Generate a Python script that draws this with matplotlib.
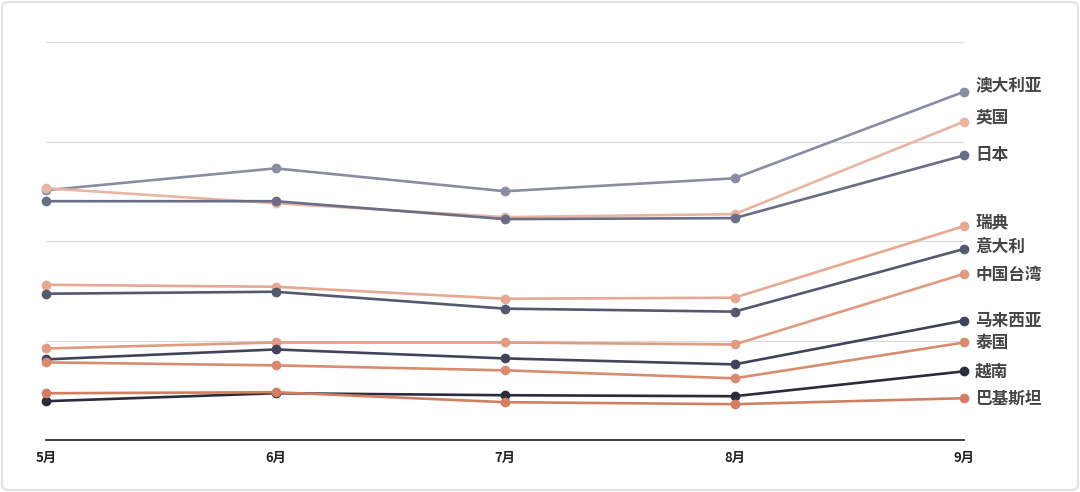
import matplotlib.pyplot as plt
from matplotlib.patches import FancyBboxPatch

plt.rcParams['font.family'] = ['Noto Sans CJK SC', 'DejaVu Sans']

# Months on the x axis
months = ['5月', '6月', '7月', '8月', '9月']

# Series values (relative index, axis 0..400)
australia = [251, 273, 250, 263, 350]
uk = [253, 238, 224, 227, 320]
japan = [240, 240, 222, 223, 286]
sweden = [156, 154, 142, 143, 215]
italy = [147, 149, 132, 129, 192]
taiwan = [92, 98, 98, 96, 167]
malaysia = [81, 91, 82, 76, 120]
thailand = [78, 75, 70, 62, 98]
vietnam = [39, 47, 45, 44, 69]
pakistan = [47, 48, 38, 36, 42]

names = ['澳大利亚', '英国', '日本', '瑞典', '意大利', '中国台湾', '马来西亚', '泰国', '越南', '巴基斯坦']
series = [australia, uk, japan, sweden, italy, taiwan, malaysia, thailand, vietnam, pakistan]
colors = ['#8a8ca3', '#e8b5a1', '#6a6d86', '#e6a891', '#55586f', '#e09b80',
          '#41435a', '#d98b6f', '#2a2b3b', '#d27e61']
# small vertical nudges (in points) so the end labels do not collide
label_nudge = [4.5, 3, 0, 3, 1.5, -0.5, 0, -0.5, 0, -0.5]

fig = plt.figure(figsize=(10.8, 4.92), dpi=100)
ax = fig.add_axes([46 / 1080, 52 / 492, 918 / 1080, 398 / 492])

x = list(range(len(months)))
for name, vals, c, nudge in zip(names, series, colors, label_nudge):
    ax.plot(x, vals, color=c, lw=1.9, marker='o', ms=6, clip_on=False, zorder=3)
    ax.annotate(name, (x[-1], vals[-1]), xytext=(8, nudge), textcoords='offset points',
                ha='left', va='center', fontsize=12, fontweight='bold',
                color='#454545', annotation_clip=False)

ax.set_xlim(0, 4)
ax.set_ylim(0, 400)
ax.set_yticks([100, 200, 300, 400])
ax.set_yticklabels([])
ax.tick_params(axis='y', length=0)
ax.grid(axis='y', color='#d9d9d9', lw=0.9)
ax.set_axisbelow(True)

ax.set_xticks(x)
ax.set_xticklabels(months, fontsize=9.5, fontweight='bold', color='#222222')
ax.tick_params(axis='x', length=0, pad=8)

for side in ['top', 'right', 'left']:
    ax.spines[side].set_visible(False)
ax.spines['bottom'].set_color('#333333')
ax.spines['bottom'].set_linewidth(1.3)

# light rounded frame around the whole picture
frame = FancyBboxPatch((0.002, 0.004), 0.996, 0.992, boxstyle='round,pad=0,rounding_size=0.008',
                       transform=fig.transFigure, fill=False, edgecolor='#e2e2e2', lw=1.5)
fig.patches.append(frame)

fig.savefig('out.png', dpi=100)
